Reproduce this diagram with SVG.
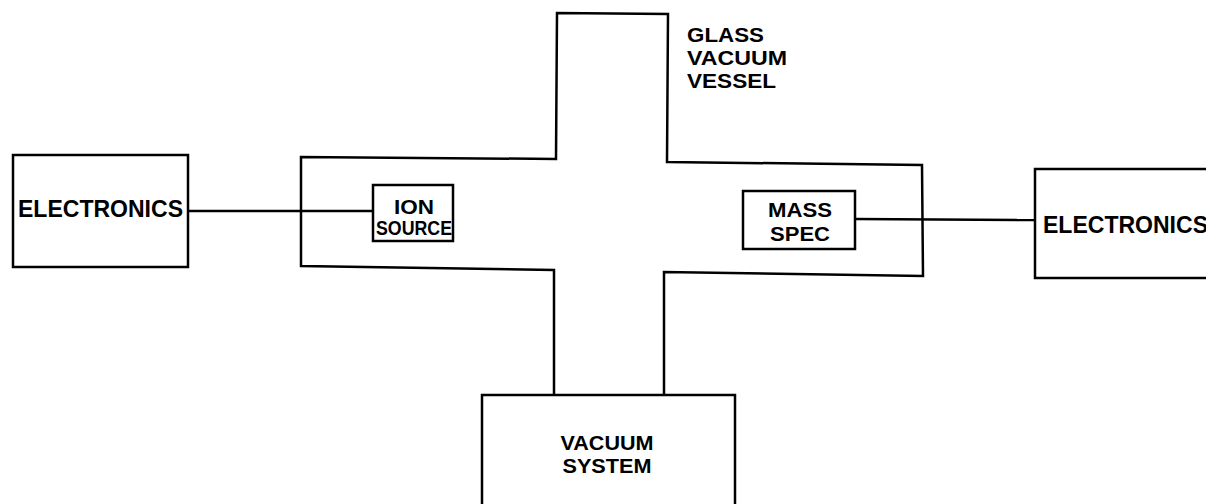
<svg xmlns="http://www.w3.org/2000/svg" width="1206" height="504" viewBox="0 0 1206 504">
<style>
.box{fill:none;stroke:#000;stroke-width:2.5}
.ln{fill:none;stroke:#000;stroke-width:2.5;stroke-linejoin:miter}
text{font-family:"Liberation Sans",Arial,sans-serif;font-weight:bold;fill:#000}
.c{text-anchor:middle}
</style>
<rect width="1206" height="504" fill="#fff"/>
<g id="vessel">
<polyline class="ln" points="554,395 554,270 301,266 301,157 556,159 557,13 668,14 667,162 922,165 923,276 664,272 664,396"/>
<text x="687" y="42" font-size="21" textLength="77" lengthAdjust="spacingAndGlyphs">GLASS</text>
<text x="687" y="65" font-size="21" textLength="100" lengthAdjust="spacingAndGlyphs">VACUUM</text>
<text x="687" y="88" font-size="21" textLength="89" lengthAdjust="spacingAndGlyphs">VESSEL</text>
</g>
<g id="connectors">
<line class="ln" x1="188" y1="211" x2="373" y2="211"/>
<line class="ln" x1="855" y1="219" x2="1035" y2="220"/>
</g>
<g id="electronics-left">
<rect class="box" x="13" y="155" width="175" height="112"/>
<text x="18" y="217" font-size="23" textLength="165" lengthAdjust="spacingAndGlyphs">ELECTRONICS</text>
</g>
<g id="ion-source">
<rect class="box" x="373" y="185" width="80" height="56"/>
<text class="c" x="414" y="214" font-size="21" textLength="40" lengthAdjust="spacingAndGlyphs">ION</text>
<text class="c" x="414" y="235" font-size="21" textLength="76" lengthAdjust="spacingAndGlyphs">SOURCE</text>
</g>
<g id="mass-spec">
<rect class="box" x="743" y="191" width="112" height="58"/>
<text class="c" x="800" y="217" font-size="21" textLength="64" lengthAdjust="spacingAndGlyphs">MASS</text>
<text class="c" x="800" y="241" font-size="21" textLength="60" lengthAdjust="spacingAndGlyphs">SPEC</text>
</g>
<g id="electronics-right">
<rect class="box" x="1035" y="169" width="200" height="109"/>
<text x="1043" y="233" font-size="23" textLength="165" lengthAdjust="spacingAndGlyphs">ELECTRONICS</text>
</g>
<g id="vacuum-system">
<rect class="box" x="482" y="395" width="253" height="130"/>
<text class="c" x="607" y="450" font-size="21" textLength="93" lengthAdjust="spacingAndGlyphs">VACUUM</text>
<text class="c" x="607" y="473" font-size="21" textLength="89" lengthAdjust="spacingAndGlyphs">SYSTEM</text>
</g>
</svg>
